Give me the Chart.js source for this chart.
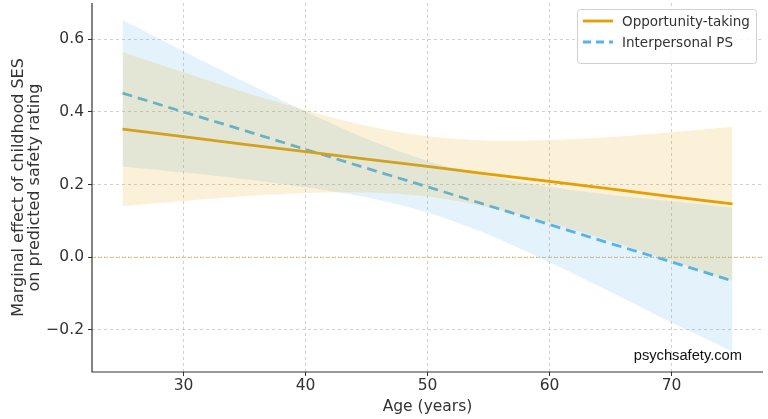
<!DOCTYPE html>
<html>
<head>
<meta charset="utf-8">
<script src="https://cdn.jsdelivr.net/npm/chart.js@4.4.1/dist/chart.umd.min.js"></script>
<style>
    html, body { margin: 0; padding: 0; background: #fff; }
    #wrap { width: 768px; height: 419px; position: relative; }
</style>
</head>
<body>
<div id="wrap"><canvas id="chart"></canvas></div>
<script>
/* ===============================
   DATA
=================================*/

const ages = [25, 30, 35, 40, 45, 50, 55, 60, 65, 70, 75];

const oppLine  = [0.353, 0.332, 0.311, 0.291, 0.270, 0.250, 0.229, 0.209, 0.188, 0.167, 0.147];
const oppUpper = [0.565, 0.509, 0.454, 0.405, 0.362, 0.333, 0.321, 0.323, 0.331, 0.344, 0.359];
const oppLower = [0.141, 0.155, 0.168, 0.177, 0.178, 0.167, 0.137, 0.095, 0.045, -0.010, -0.065];

const psLine  = [0.452, 0.400, 0.349, 0.297, 0.245, 0.194, 0.142, 0.090, 0.038, -0.013, -0.065];
const psUpper = [0.654, 0.567, 0.483, 0.401, 0.326, 0.265, 0.223, 0.194, 0.172, 0.154, 0.137];
const psLower = [0.250, 0.233, 0.215, 0.193, 0.165, 0.123, 0.062, -0.014, -0.096, -0.180, -0.260];

const xTicks = [30, 40, 50, 60, 70];
const yTicks = [-0.2, 0.0, 0.2, 0.4, 0.6];

const seriesNames = ["Opportunity-taking", "Interpersonal PS"];

/* ===============================
   HELPERS
=================================*/

const ORANGE = "#E69F00";
const BLUE = "#56B4E9";
const FONT = "'DejaVu Sans', sans-serif";

function pts(values) {
    return ages.map((a, i) => ({ x: a, y: values[i] }));
}

function fmtTick(v) {
    const s = Number(v).toFixed(1);
    return s.replace("-", "\u2212");
}

/* ===============================
   PLUGINS
=================================*/

const bgPlugin = {
    id: "bg",
    beforeDraw(chart) {
        const c = chart.ctx;
        c.save();
        c.fillStyle = "#fff";
        c.fillRect(0, 0, chart.width, chart.height);
        c.restore();
    }
};

const zeroLine = {
    id: "zeroLine",
    beforeDatasetsDraw(chart) {
        const { ctx, chartArea, scales } = chart;
        const y = scales.y.getPixelForValue(0);
        ctx.save();
        ctx.strokeStyle = "#E3A32A";
        ctx.lineWidth = 1;
        ctx.setLineDash([1, 2]);
        ctx.beginPath();
        ctx.moveTo(chartArea.left, y);
        ctx.lineTo(chartArea.right, y);
        ctx.stroke();
        ctx.restore();
    }
};

const spines = {
    id: "spines",
    afterDraw(chart) {
        const { ctx, chartArea } = chart;
        ctx.save();
        ctx.strokeStyle = "#333";
        ctx.lineWidth = 1.2;
        ctx.beginPath();
        ctx.moveTo(chartArea.left, chartArea.top);
        ctx.lineTo(chartArea.left, chartArea.bottom);
        ctx.lineTo(chartArea.right, chartArea.bottom);
        ctx.stroke();

        // watermark
        ctx.fillStyle = "#111";
        ctx.font = "14.7px 'Liberation Sans', Arial, sans-serif";
        ctx.textAlign = "right";
        ctx.textBaseline = "alphabetic";
        ctx.fillText("psychsafety.com", 742, 360);
        ctx.restore();
    }
};

const legendBox = {
    id: "legendBox",
    afterDraw(chart) {
        const ctx = chart.ctx;
        const x = 577, y = 9, w = 179, h = 54;
        ctx.save();
        ctx.fillStyle = "rgba(255,255,255,0.85)";
        ctx.strokeStyle = "#d0d0d0";
        ctx.lineWidth = 1;
        ctx.beginPath();
        ctx.roundRect(x + 0.5, y + 0.5, w, h, 3);
        ctx.fill();
        ctx.stroke();

        const items = [
            { label: seriesNames[0], color: ORANGE, dash: [] , yy: 21 },
            { label: seriesNames[1], color: BLUE, dash: [8, 5], yy: 42 }
        ];
        items.forEach(it => {
            ctx.strokeStyle = it.color;
            ctx.lineWidth = 2.8;
            ctx.setLineDash(it.dash);
            ctx.beginPath();
            ctx.moveTo(583, it.yy);
            ctx.lineTo(613, it.yy);
            ctx.stroke();
            ctx.setLineDash([]);
            ctx.fillStyle = "#333";
            ctx.font = "13.5px " + FONT;
            ctx.textAlign = "left";
            ctx.textBaseline = "middle";
            ctx.fillText(it.label, 622, it.yy + 1);
        });
        ctx.restore();
    }
};

/* ===============================
   CHART
=================================*/

const band = (data, color, fill) => ({
    data: pts(data),
    borderWidth: 0,
    pointRadius: 0,
    backgroundColor: color,
    fill: fill,
    tension: 0.3
});

const gridOpts = {
    color: "#c4c4c4",
    lineWidth: 0.8,
    tickLength: 4,
    tickColor: "#333",
    tickWidth: 1,
    tickBorderDash: []
};

function noPad(s) {
    s.paddingTop = 0;
    s.paddingBottom = 0;
}

new Chart(document.getElementById("chart"), {
    type: "line",
    data: {
        datasets: [
            band(oppUpper, "rgba(230,159,0,0.15)", "+1"),
            band(oppLower, "rgba(0,0,0,0)", false),
            band(psUpper, "rgba(86,180,233,0.16)", "+1"),
            band(psLower, "rgba(0,0,0,0)", false),
            {
                label: seriesNames[0],
                data: pts(oppLine),
                borderColor: ORANGE,
                borderWidth: 2.8,
                pointRadius: 0,
                fill: false
            },
            {
                label: seriesNames[1],
                data: pts(psLine),
                borderColor: BLUE,
                borderWidth: 2.8,
                borderDash: [10, 6],
                pointRadius: 0,
                fill: false
            }
        ]
    },
    options: {
        responsive: true,
        maintainAspectRatio: false,
        animation: false,
        layout: { padding: { top: 3, right: 5, left: 0, bottom: 0 } },
        plugins: {
            legend: { display: false },
            tooltip: { enabled: false }
        },
        scales: {
            x: {
                type: "linear",
                min: 22.5,
                max: 77.5,
                afterBuildTicks: s => { s.ticks = xTicks.map(v => ({ value: v })); },
                afterFit: s => { s.height = 47; },
                border: { display: false, dash: [3, 3] },
                grid: gridOpts,
                ticks: {
                    color: "#333",
                    font: { family: FONT, size: 15.5 },
                    padding: 1,
                    maxRotation: 0
                },
                title: {
                    display: true,
                    text: "Age (years)",
                    color: "#333",
                    font: { family: FONT, size: 15.5 },
                    padding: { top: 0, bottom: 3 }
                }
            },
            y: {
                min: -0.316,
                max: 0.70,
                afterBuildTicks: s => { s.ticks = yTicks.map(v => ({ value: v })); },
                afterFit: s => { s.width = 92; noPad(s); },
                border: { display: false, dash: [3, 3] },
                grid: gridOpts,
                ticks: {
                    color: "#333",
                    font: { family: FONT, size: 15.5 },
                    padding: 4,
                    callback: v => fmtTick(v)
                },
                title: {
                    display: true,
                    text: ["Marginal effect of childhood SES", "on predicted safety rating"],
                    color: "#333",
                    font: { family: FONT, size: 16, lineHeight: 1.05 },
                    padding: { top: 10, bottom: 4 }
                }
            }
        }
    },
    plugins: [bgPlugin, zeroLine, spines, legendBox]
});
</script>
</body>
</html>
